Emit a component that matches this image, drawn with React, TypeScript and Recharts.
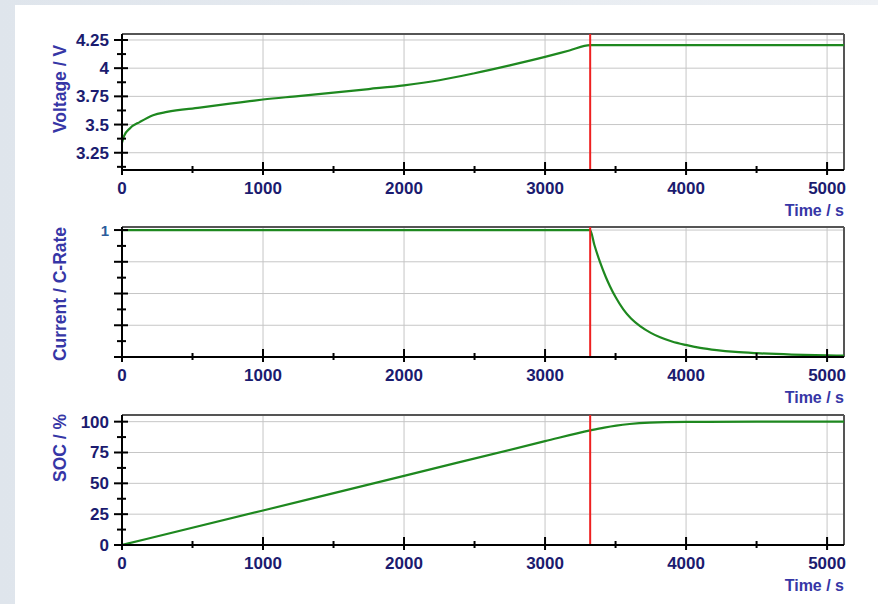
import {
  CartesianGrid,
  Line,
  LineChart,
  ReferenceLine,
  XAxis,
  YAxis,
} from "recharts";

// time axis
const xTicks = [0, 500, 1000, 1500, 2000, 2500, 3000, 3500, 4000, 4500, 5000];
const xLabeled = [0, 1000, 2000, 3000, 4000, 5000];
const switchTime = 3320;

// voltage
const voltTime = [0, 15, 57, 128, 220, 319, 552, 765, 906, 1000, 1250, 1500, 1750, 2000, 2250, 2500, 2750, 3000, 3173, 3320, 3600, 4000, 4500, 5000, 5120];
const voltValue = [3.34, 3.4, 3.468, 3.524, 3.583, 3.612, 3.65, 3.685, 3.707, 3.722, 3.752, 3.783, 3.815, 3.848, 3.893, 3.955, 4.025, 4.1, 4.157, 4.205, 4.205, 4.205, 4.205, 4.205, 4.205];
const voltTicks = [3.125, 3.25, 3.375, 3.5, 3.625, 3.75, 3.875, 4, 4.125, 4.25];
const voltMajor = [3.25, 3.5, 3.75, 4, 4.25];

// current
const currTime = [0, 3320, 3350, 3390, 3430, 3461, 3500, 3555, 3610, 3674, 3750, 3816, 3900, 3998, 4100, 4217, 4350, 4501, 4750, 4998, 5120];
const currValue = [1, 1, 0.882, 0.747, 0.632, 0.556, 0.472, 0.375, 0.303, 0.243, 0.19, 0.155, 0.122, 0.095, 0.072, 0.054, 0.04, 0.03, 0.019, 0.013, 0.011];
const currTicks = [0, 0.125, 0.25, 0.375, 0.5, 0.625, 0.75, 0.875, 1];
const currMajor = [0, 0.25, 0.5, 0.75, 1];
const currLabeled = [1];

// state of charge
const socTime = [0, 1000, 2000, 3000, 3320, 3420, 3505, 3600, 3742, 4000, 4500, 5120];
const socValue = [0, 28, 56, 84.2, 92.9, 95.2, 96.8, 98.1, 99.2, 99.8, 100, 100];
const socTicks = [0, 12.5, 25, 37.5, 50, 62.5, 75, 87.5, 100];
const socMajor = [0, 25, 50, 75, 100];

const FONT = "'Liberation Sans', Arial, Helvetica, sans-serif";
const NAVY = "#1b1b6f";
const TITLE = "#3636a6";
const GREEN = "#1e881f";
const X_MAX = 5120;

const zip = (t: number[], v: number[]) => t.map((x, i) => ({ t: x, v: v[i] }));

type PanelProps = {
  top: number;
  marginTop: number;
  plotH: number;
  domain: [number, number];
  ticks: number[];
  major: number[];
  labeled: number[];
  tickColor?: string;
  tickSize?: number;
  data: { t: number; v: number }[];
  title: string;
  titleY: number;
};

function Panel(p: PanelProps) {
  const height = p.marginTop + p.plotH + 52;
  const axisY = p.marginTop + p.plotH;

  const xTick = ({ x, y, payload }: any) => {
    const v = payload.value;
    const isMajor = xLabeled.includes(v);
    return (
      <g>
        <line x1={x} x2={x} y1={y - (isMajor ? 8 : 4)} y2={y + (isMajor ? 5 : 3)} stroke="#000" strokeWidth={2} />
        {isMajor && (
          <text x={x} y={y + 24} textAnchor="middle" fill={NAVY} fontSize={17} fontWeight="bold" fontFamily={FONT}>
            {v}
          </text>
        )}
      </g>
    );
  };

  const yTick = ({ x, y, payload }: any) => {
    const v = payload.value;
    const isMajor = p.major.includes(v);
    const show = p.labeled.includes(v);
    return (
      <g>
        <line x1={x - (isMajor ? 8 : 5)} x2={x + (isMajor ? 6 : 4)} y1={y} y2={y} stroke="#000" strokeWidth={2} />
        {show && (
          <text x={x - 13} y={y + 6} textAnchor="end" fill={p.tickColor ?? NAVY} fontSize={p.tickSize ?? 17} fontWeight="bold" fontFamily={FONT}>
            {v}
          </text>
        )}
      </g>
    );
  };

  return (
    <div style={{ position: "absolute", left: 0, top: p.top }}>
      <LineChart width={878} height={height} data={p.data} margin={{ top: p.marginTop, right: 34, bottom: 0, left: 0 }}>
        <CartesianGrid stroke="#c6c6c6" verticalValues={[1000, 2000, 3000, 4000, 5000]} horizontalValues={p.major} />
        <XAxis
          dataKey="t"
          type="number"
          domain={[0, X_MAX]}
          allowDataOverflow
          ticks={xTicks}
          interval={0}
          tickSize={0}
          tickMargin={0}
          tick={xTick}
          height={52}
          axisLine={{ stroke: "#000", strokeWidth: 2 }}
          label={() => (
            <text x={844} y={axisY + 46} textAnchor="end" fill={TITLE} fontSize={16} fontWeight="bold" fontFamily={FONT}>
              Time / s
            </text>
          )}
        />
        <YAxis
          type="number"
          domain={p.domain}
          allowDataOverflow
          ticks={p.ticks}
          interval={0}
          tickSize={0}
          tickMargin={0}
          tick={yTick}
          width={122}
          axisLine={{ stroke: "#000", strokeWidth: 2 }}
          label={() => (
            <text
              x={60}
              y={p.titleY}
              transform={`rotate(-90 60 ${p.titleY})`}
              textAnchor="middle"
              dominantBaseline="central"
              fill={TITLE}
              fontSize={17.5}
              fontWeight="bold"
              fontFamily={FONT}
            >
              {p.title}
            </text>
          )}
        />
        <ReferenceLine y={p.domain[1]} stroke="#555" strokeWidth={2} />
        <ReferenceLine x={X_MAX} stroke="#555" strokeWidth={2} />
        <Line type="monotone" dataKey="v" stroke={GREEN} strokeWidth={2.2} dot={false} isAnimationActive={false} />
        <ReferenceLine x={switchTime} stroke="#ee2020" strokeWidth={2} />
      </LineChart>
    </div>
  );
}

export default function App() {
  return (
    <div style={{ position: "absolute", left: 0, top: 0, width: 878, height: 604, background: "linear-gradient(90deg, #dfe5ec, #eef1f5)", overflow: "hidden" }}>
      <div style={{ position: "absolute", left: 15, top: 5, right: 0, bottom: 0, background: "#fff" }} />
      <Panel
        top={0}
        marginTop={34}
        plotH={136}
        domain={[3.097, 4.303]}
        ticks={voltTicks}
        major={voltMajor}
        labeled={voltMajor}
        data={zip(voltTime, voltValue)}
        title="Voltage / V"
        titleY={89}
      />
      <Panel
        top={222}
        marginTop={5}
        plotH={130}
        domain={[0, 1.024]}
        ticks={currTicks}
        major={currMajor}
        labeled={currLabeled}
        tickColor="#2b5c9c"
        tickSize={15}
        data={zip(currTime, currValue)}
        title="Current / C-Rate"
        titleY={72}
      />
      <Panel
        top={409}
        marginTop={6}
        plotH={130}
        domain={[0, 105.4]}
        ticks={socTicks}
        major={socMajor}
        labeled={socMajor}
        data={zip(socTime, socValue)}
        title="SOC / %"
        titleY={39}
      />
    </div>
  );
}
